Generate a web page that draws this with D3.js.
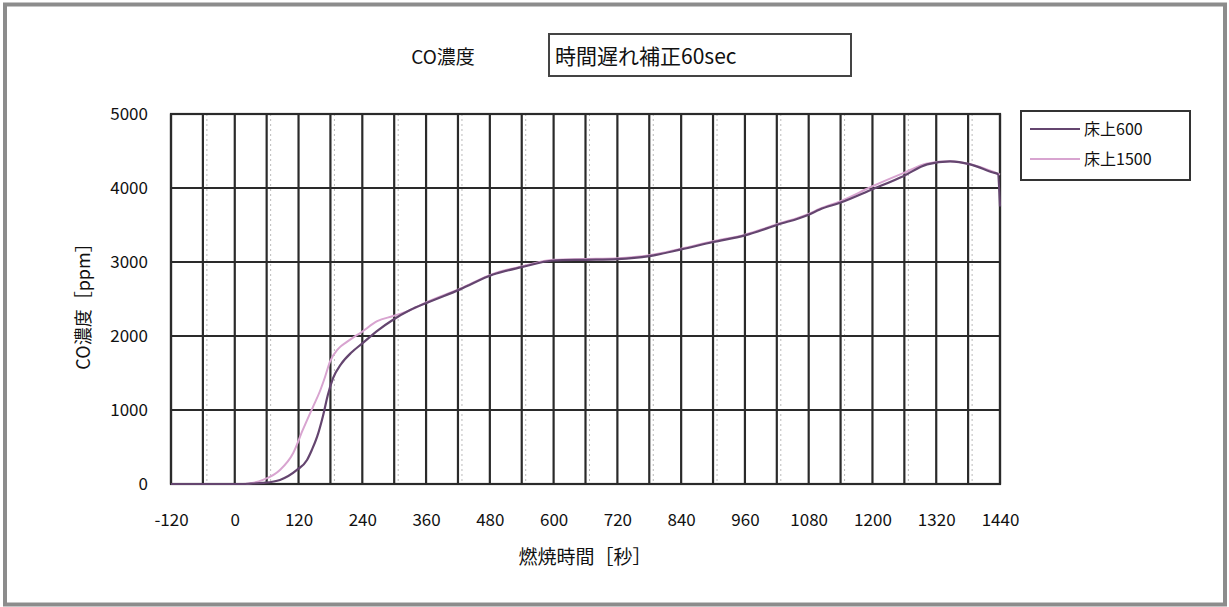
<!DOCTYPE html>
<html><head><meta charset="utf-8">
<script src="https://cdn.jsdelivr.net/npm/d3@7"></script>
<style>body{margin:0;background:#fff}svg{display:block}text{font-family:"Noto Sans CJK JP","Noto Sans",sans-serif;fill:#111}</style>
</head><body><svg id="c" width="1229" height="607"></svg>
<script>
const seriesNames = ["床上600", "床上1500"];
const times600 = [-120,-60,0,15,30,53,85,117,136,145,155,166,175,185,200,220,240,270,298,330,362,424,486,540,600,660,720,780,840,900,960,1020,1080,1101,1139,1199,1258,1303,1346,1384,1427,1436,1440];
const values600 = [0,0,0,0,5,15,55,190,325,460,640,920,1200,1430,1620,1780,1900,2080,2220,2350,2450,2630,2830,2930,3020,3030,3040,3080,3170,3270,3360,3500,3640,3710,3800,3980,4160,4320,4360,4320,4210,4190,3750];
const times1500 = [-120,-60,0,15,30,53,85,110,128,147,160,170,179,195,211,240,268,298,330,362,424,486,540,600,660,720,780,840,900,960,1020,1080,1101,1139,1199,1258,1303,1346,1384,1427,1440];
const values1500 = [0,0,0,0,10,55,190,420,730,1040,1250,1450,1650,1830,1920,2060,2200,2270,2350,2460,2640,2840,2940,3030,3040,3050,3090,3180,3280,3370,3510,3650,3720,3820,4020,4200,4330,4360,4320,4220,4180];
const xTicks = [-120,0,120,240,360,480,600,720,840,960,1080,1200,1320,1440];
const xGrid = d3.range(-120, 1441, 60);
const yTicks = [0,1000,2000,3000,4000,5000];
const colors = ["#64456f", "#d8a4d0"];

const svg = d3.select("#c");
const L = 171, R = 1000, T = 114, B = 484;
const x = d3.scaleLinear().domain([-120,1440]).range([L,R]);
const y = d3.scaleLinear().domain([0,5000]).range([B,T]);

// outer frame
svg.append("rect").attr("x",5).attr("y",4.5).attr("width",1220).attr("height",600)
  .attr("fill","#fff").attr("stroke","#8c8c8c").attr("stroke-width",4);

// grid
const g = svg.append("g");
g.selectAll(".vg").data(xGrid).join("line")
  .attr("x1",d=>x(d)).attr("x2",d=>x(d)).attr("y1",T).attr("y2",B)
  .attr("stroke","#2a2a2a").attr("stroke-width",2.2);
g.selectAll(".vd").data(xGrid.filter(d=>(d+120)%120!==0)).join("line")
  .attr("x1",d=>x(d)+4).attr("x2",d=>x(d)+4).attr("y1",T).attr("y2",B)
  .attr("stroke","#bbb").attr("stroke-width",1).attr("stroke-dasharray","2,3");
g.selectAll(".hg").data(yTicks).join("line")
  .attr("x1",L).attr("x2",R).attr("y1",d=>y(d)).attr("y2",d=>y(d))
  .attr("stroke","#2a2a2a").attr("stroke-width",2.2);
svg.append("rect").attr("x",L).attr("y",T).attr("width",R-L).attr("height",B-T)
  .attr("fill","none").attr("stroke","#2a2a2a").attr("stroke-width",2.2);

// axes labels via d3 axes
const xAxis = svg.append("g").attr("transform",`translate(0,${B})`)
  .call(d3.axisBottom(x).tickValues(xTicks).tickSize(0).tickPadding(30).tickFormat(d=>String(d)));
xAxis.select(".domain").remove();
xAxis.selectAll("text").attr("font-size",17).attr("fill","#111").attr("font-family",'"Liberation Sans",Arial,sans-serif');
const yAxis = svg.append("g").attr("transform",`translate(${L},0)`)
  .call(d3.axisLeft(y).tickValues(yTicks).tickSize(0).tickPadding(23).tickFormat(d=>String(d)));
yAxis.select(".domain").remove();
yAxis.selectAll("text").attr("font-size",17).attr("fill","#111").attr("font-family",'"Liberation Sans",Arial,sans-serif');

// lines
const line = d3.line().x(d=>x(d[0])).y(d=>y(d[1])).curve(d3.curveMonotoneX);
const data1500 = times1500.map((t,i)=>[t,values1500[i]]);
const data600 = times600.map((t,i)=>[t,values600[i]]);
svg.append("path").datum(data1500).attr("d",line).attr("fill","none").attr("stroke",colors[1]).attr("stroke-width",2);
svg.append("path").datum(data600).attr("d",line).attr("fill","none").attr("stroke",colors[0]).attr("stroke-width",2.2);

// title
svg.append("text").attr("x",443).attr("y",64).attr("text-anchor","middle").attr("font-size",19).text("CO濃度");
svg.append("rect").attr("x",549).attr("y",34).attr("width",302).attr("height",42)
  .attr("fill","#fff").attr("stroke","#444").attr("stroke-width",2);
svg.append("text").attr("x",555).attr("y",64).attr("font-size",21).text("時間遅れ補正60sec");

// axis titles
svg.append("text").attr("transform","translate(90,302) rotate(-90)").attr("text-anchor","middle")
  .attr("font-size",18).text("CO濃度［ppm］");
svg.append("text").attr("x",585).attr("y",564).attr("text-anchor","middle").attr("font-size",19).text("燃焼時間［秒］");

// legend
svg.append("rect").attr("x",1021).attr("y",111).attr("width",169).attr("height",69)
  .attr("fill","#fff").attr("stroke","#333").attr("stroke-width",2);
const lg = svg.append("g").selectAll("g").data(seriesNames).join("g")
  .attr("transform",(d,i)=>`translate(1030,${129+i*30})`);
lg.append("line").attr("x1",0).attr("x2",50).attr("y1",0).attr("y2",0)
  .attr("stroke",(d,i)=>colors[i]).attr("stroke-width",2);
lg.append("text").attr("x",54).attr("y",6).attr("font-size",16).text(d=>d);
</script></body></html>
